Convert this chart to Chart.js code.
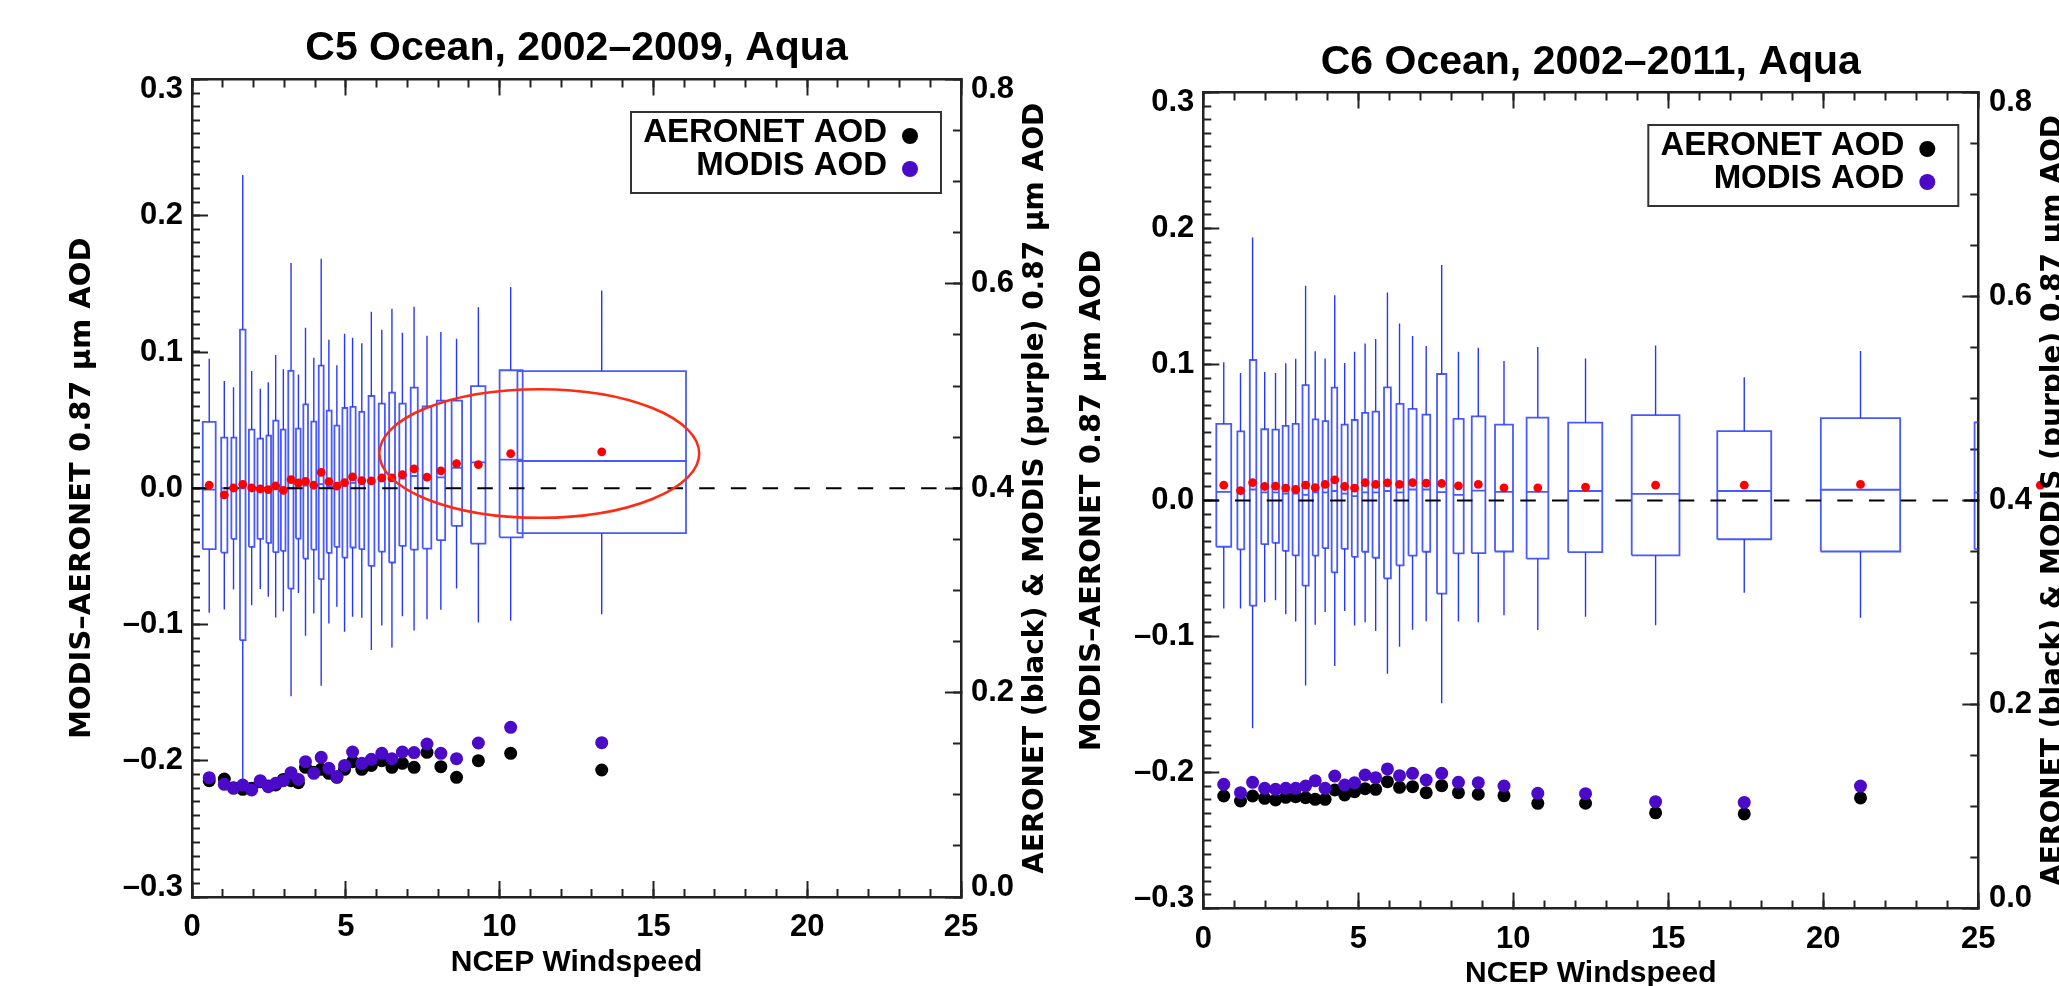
<!DOCTYPE html>
<html>
<head>
<meta charset="utf-8">
<title>MODIS-AERONET vs NCEP windspeed</title>
<script src="https://cdn.jsdelivr.net/npm/chart.js@4.4.1/dist/chart.umd.min.js"></script>
<style>
  html, body { margin: 0; padding: 0; background: #fff; width: 2059px; height: 986px; overflow: hidden; }
  canvas { position: absolute; left: 0; top: 0; }
</style>
</head>
<body>
<canvas id="c5" width="2200" height="1010"></canvas>
<canvas id="c6" width="2200" height="1010"></canvas>
<script>
// ---- C5 Ocean, 2002-2009 (left panel) ----
const c5X      = [0.56,1.05,1.35,1.65,1.94,2.22,2.48,2.72,2.97,3.22,3.46,3.69,3.96,4.20,4.45,4.71,4.96,5.22,5.52,5.83,6.17,6.50,6.84,7.22,7.64,8.09,8.60,9.31,10.36,13.32];
const c5Left   = [0.35,0.95,1.28,1.56,1.85,2.13,2.42,2.64,2.89,3.13,3.38,3.62,3.88,4.12,4.38,4.63,4.89,5.15,5.44,5.74,6.07,6.41,6.74,7.11,7.50,7.96,8.44,9.07,10.00,10.58];
const c5Right  = [0.77,1.15,1.44,1.74,2.03,2.31,2.57,2.81,3.04,3.30,3.53,3.77,4.04,4.28,4.54,4.79,5.05,5.32,5.60,5.93,6.27,6.60,6.95,7.34,7.78,8.23,8.78,9.54,10.75,16.06];
const c5Q3     = [0.0487,0.0372,0.0372,0.1164,0.043,0.0364,0.0386,0.0496,0.043,0.0861,0.0438,0.0616,0.0489,0.09,0.057,0.046,0.0589,0.0597,0.056,0.0677,0.0621,0.0702,0.0621,0.0738,0.0601,0.0643,0.0643,0.075,0.0866,0.086];
const c5Med    = [-0.001,0,0,0,0,0,0,0,0,0,0.001,0.002,0.002,0.003,0.001,0.001,0.002,0.004,0.003,0.004,0.005,0.006,0.007,0.009,0.008,0.008,0.015,0.019,0.021,0.020];
const c5Q1     = [-0.0447,-0.0472,-0.0372,-0.1115,-0.043,-0.0372,-0.0401,-0.0469,-0.046,-0.0736,-0.0369,-0.0516,-0.045,-0.0667,-0.0474,-0.043,-0.0509,-0.0435,-0.0447,-0.057,-0.0465,-0.0545,-0.0423,-0.045,-0.0443,-0.0381,-0.0276,-0.0406,-0.036,-0.033];
const c5Hi     = [0.0951,0.0787,0.0741,0.230,0.0861,0.0731,0.0778,0.0978,0.0873,0.1653,0.0834,0.1178,0.0958,0.1685,0.109,0.0902,0.1134,0.1105,0.1064,0.1296,0.1164,0.1318,0.1142,0.1333,0.112,0.1147,0.1098,0.1328,0.1477,0.1452];
const c5Lo     = [-0.0914,-0.089,-0.0743,-0.2252,-0.0858,-0.074,-0.0797,-0.0949,-0.0902,-0.1526,-0.0768,-0.1083,-0.0919,-0.145,-0.0993,-0.087,-0.1054,-0.0944,-0.0951,-0.1188,-0.1007,-0.1169,-0.0939,-0.1044,-0.0961,-0.0892,-0.0736,-0.0985,-0.0973,-0.0924];
const c5Mean   = [0.0022,-0.0049,0.0002,0.0029,0.0002,-0.0005,-0.001,0.0017,-0.0015,0.0064,0.0039,0.0051,0.0022,0.0117,0.0049,0.0015,0.0042,0.0083,0.0056,0.0054,0.0076,0.0076,0.010,0.0142,0.0081,0.0127,0.0181,0.0174,0.0254,0.0267];
const c5Aeronet= [0.1138,0.1155,0.107,0.1054,0.1063,0.1129,0.1086,0.1096,0.1151,0.1138,0.1119,0.1269,0.122,0.1249,0.121,0.1171,0.1249,0.1324,0.1249,0.1288,0.1334,0.1269,0.1308,0.1269,0.1416,0.1275,0.1171,0.1334,0.1406,0.1243];
const c5Modis  = [0.1168,0.1103,0.1063,0.1096,0.1047,0.1138,0.108,0.1112,0.1138,0.1217,0.1151,0.1324,0.121,0.1367,0.1259,0.1178,0.1288,0.1419,0.1308,0.1347,0.1406,0.1354,0.1419,0.1413,0.1497,0.1406,0.1354,0.1507,0.166,0.151];
// red ring drawn on the C5 panel: centre (windspeed, diff) and radii
const c5Ring   = { cx: 11.29, cy: 0.0255, rx: 5.2, ry: 0.0472 };

// ---- C6 Ocean, 2002-2011 (right panel) ----
const c6X      = [0.66,1.20,1.59,1.98,2.33,2.66,2.98,3.30,3.61,3.93,4.24,4.56,4.88,5.22,5.56,5.94,6.33,6.75,7.19,7.69,8.23,8.87,9.70,10.79,12.33,14.59,17.45,21.20,27.0];
const c6Left   = [0.42,1.10,1.50,1.87,2.23,2.56,2.88,3.20,3.53,3.85,4.14,4.46,4.79,5.12,5.46,5.83,6.23,6.62,7.07,7.54,8.07,8.66,9.41,10.43,11.77,13.82,16.58,19.92,24.88];
const c6Right  = [0.90,1.32,1.71,2.09,2.44,2.75,3.08,3.40,3.71,4.03,4.32,4.66,4.98,5.32,5.67,6.05,6.46,6.88,7.32,7.84,8.40,9.10,9.99,11.13,12.87,15.36,18.32,22.48,29.1];
const c6Q3     = [0.0563,0.0509,0.1033,0.0524,0.0521,0.0548,0.0563,0.0849,0.0597,0.0583,0.083,0.0558,0.0592,0.0644,0.0654,0.0832,0.071,0.0673,0.0632,0.093,0.06,0.0619,0.0558,0.061,0.0572,0.0628,0.051,0.0606,0.0575];
const c6Med    = [0.0064,0.0056,0.0081,0.006,0.006,0.005,0.005,0.0042,0.006,0.006,0.007,0.005,0.0032,0.006,0.006,0.007,0.006,0.0081,0.0081,0.0061,0.0042,0.0073,0.0064,0.0064,0.007,0.0048,0.007,0.0079,0.006];
const c6Q1     = [-0.034,-0.036,-0.0773,-0.0321,-0.0311,-0.037,-0.0404,-0.0626,-0.0406,-0.035,-0.0529,-0.0355,-0.0414,-0.0377,-0.0421,-0.0572,-0.0477,-0.0406,-0.0377,-0.0685,-0.0389,-0.0387,-0.0375,-0.0428,-0.038,-0.0403,-0.0285,-0.0375,-0.0358];
const c6Hi     = [0.1016,0.0938,0.1934,0.0945,0.0938,0.1009,0.1043,0.1579,0.1097,0.1045,0.151,0.1011,0.1094,0.1155,0.1187,0.153,0.1302,0.1209,0.1136,0.1731,0.1094,0.1124,0.1026,0.1129,0.1045,0.114,0.0907,0.1099,null];
const c6Lo     = [-0.0795,-0.0795,-0.1675,-0.0749,-0.0734,-0.0837,-0.089,-0.136,-0.0913,-0.082,-0.1217,-0.0812,-0.092,-0.0896,-0.0959,-0.1273,-0.1075,-0.095,-0.0888,-0.1491,-0.089,-0.0896,-0.0844,-0.0952,-0.0854,-0.0918,-0.0679,-0.0862,null];
const c6Mean   = [0.0113,0.0073,0.0132,0.0103,0.0105,0.0091,0.0081,0.0113,0.0095,0.0118,0.0152,0.0103,0.0091,0.0132,0.0118,0.013,0.0118,0.0132,0.0127,0.0125,0.0108,0.0118,0.0093,0.0093,0.0099,0.0113,0.0113,0.0118,0.0113];
const c6Aeronet= [0.1103,0.1054,0.1103,0.108,0.1064,0.109,0.1096,0.1087,0.107,0.107,0.1162,0.1113,0.1145,0.1175,0.1168,0.1243,0.1188,0.1194,0.1136,0.1204,0.1136,0.112,0.1106,0.1031,0.1032,0.0938,0.0927,0.1084,null];
const c6Modis  = [0.1217,0.1136,0.1237,0.1178,0.1168,0.1178,0.1178,0.1201,0.1253,0.1178,0.1299,0.1211,0.1234,0.1309,0.1283,0.1368,0.1302,0.1325,0.126,0.1325,0.1237,0.1234,0.1201,0.1129,0.1126,0.1047,0.104,0.12,null];

// axis ranges
const X_RANGE  = [0, 25];
const Y_RANGE  = [-0.3, 0.3];
const Y2_RANGE = [0, 0.8];

const SANS = "'Liberation Sans', Arial, sans-serif";
const WIDE = "'DejaVu Sans', sans-serif";
const INK = '#222';
const BOX_BLUE = 'rgba(40,60,255,0.85)';
const WHISKER_BLUE = '#2536ff';
const PURPLE = '#4a0ac8';
const Y_TITLE = 'MODIS\u2013AERONET 0.87 \u03bcm AOD';
const Y2_TITLE = 'AERONET (black) & MODIS (purple) 0.87 \u03bcm AOD';

// box outlines + median bars, separated by gaps
function boxOutline(left, right, q1, med, q3) {
  const pts = [];
  left.forEach(function(l, i) {
    const r = right[i];
    pts.push({x: l, y: q1[i]}, {x: l, y: q3[i]}, {x: r, y: q3[i]}, {x: r, y: q1[i]}, {x: l, y: q1[i]}, {x: NaN, y: null});
    pts.push({x: l, y: med[i]}, {x: r, y: med[i]}, {x: NaN, y: null});
  });
  return pts;
}

function whiskers(x, q1, q3, lo, hi) {
  const pts = [];
  x.forEach(function(xv, i) {
    if (hi[i] !== null) pts.push({x: xv, y: q3[i]}, {x: xv, y: hi[i]}, {x: NaN, y: null});
    if (lo[i] !== null) pts.push({x: xv, y: q1[i]}, {x: xv, y: lo[i]}, {x: NaN, y: null});
  });
  return pts;
}

function zip(x, y) {
  return x.map(function(v, i) { return {x: v, y: y[i]}; });
}

function yLabel(v, i, ticks) {
  const s = (v < -1e-9 ? '\u2013' : '') + Math.abs(v).toFixed(1);
  if (i === 0) return [s, ''];
  if (i === ticks.length - 1) return ['', s];
  return s;
}

// end labels sit a little inside the frame, like the original
function edgeFont(ctx) {
  const t = ctx && ctx.scale ? ctx.scale.ticks : null;
  const last = t ? t.length - 1 : -1;
  const edge = t && (ctx.index === 0 || ctx.index === last);
  return {family: SANS, size: 31, weight: 'bold', lineHeight: edge ? '20px' : 1.2};
}

function tickGrid(len) {
  return {display: true, drawOnChartArea: false, drawTicks: true, tickLength: len, tickWidth: 2, tickColor: INK};
}

function minorScale(position, range, step) {
  const horiz = position === 'top' || position === 'bottom';
  return {
    type: 'linear', position: position, weight: 0, min: range[0], max: range[1],
    ticks: {display: false, stepSize: step, maxTicksLimit: 1000},
    grid: tickGrid(-8), border: {display: false},
    afterFit: function(s) { if (horiz) s.height = 0; else s.width = 0; }
  };
}

function frameScales(lay) {
  return {
    x: {
      type: 'linear', position: 'bottom', weight: 1, min: X_RANGE[0], max: X_RANGE[1],
      ticks: {stepSize: 5, maxTicksLimit: 1000, autoSkip: false, maxRotation: 0, color: '#000',
              font: {family: SANS, size: 31, weight: 'bold'}, padding: 28},
      grid: tickGrid(-16), border: {color: INK, width: 2.5},
      title: {display: true, text: 'NCEP Windspeed', color: '#000',
              font: {family: SANS, size: 30, weight: 'bold'}, padding: {top: 0, bottom: lay.xTitlePad}},
      afterFit: function(s) { s.height = lay.xHeight; }
    },
    xMinor: minorScale('bottom', X_RANGE, 1),
    xTop: {
      type: 'linear', position: 'top', weight: 1, min: X_RANGE[0], max: X_RANGE[1],
      ticks: {display: false, stepSize: 5, maxTicksLimit: 1000},
      grid: tickGrid(-16), border: {color: INK, width: 2.5},
      afterFit: function(s) { s.height = 0; }
    },
    xTopMinor: minorScale('top', X_RANGE, 1),
    y: {
      type: 'linear', position: 'left', weight: 1, min: Y_RANGE[0], max: Y_RANGE[1],
      ticks: {stepSize: 0.1, maxTicksLimit: 1000, autoSkip: false, color: '#000', font: edgeFont,
              padding: 25, callback: yLabel},
      grid: tickGrid(-16), border: {color: INK, width: 2.5},
      title: {display: true, text: Y_TITLE, color: '#000',
              font: {family: WIDE, size: 29, weight: 'bold'}, padding: {top: lay.yTitlePad, bottom: 0}},
      afterFit: function(s) { s.width = lay.yWidth; }
    },
    yMinor: minorScale('left', Y_RANGE, 0.01),
    y2: {
      type: 'linear', position: 'right', weight: 1, min: Y2_RANGE[0], max: Y2_RANGE[1],
      ticks: {stepSize: 0.2, maxTicksLimit: 1000, autoSkip: false, color: '#000', font: edgeFont,
              padding: lay.y2Pad, callback: yLabel},
      grid: tickGrid(-16), border: {color: INK, width: 2.5},
      afterFit: function(s) { s.width = 100; }
    },
    y2Minor: minorScale('right', Y2_RANGE, 0.05)
  };
}

// legend box in the upper right of the frame
const aodLegend = {
  id: 'aodLegend',
  afterDatasetsDraw(chart, args, o) {
    const {ctx, chartArea: a} = chart;
    const items = chart.data.datasets.filter(function(d) { return d.inLegend; });
    const right = a.right - o.inset, top = a.top + o.top;
    ctx.save();
    ctx.lineWidth = 2;
    ctx.strokeStyle = '#333';
    ctx.strokeRect(right - o.width, top, o.width, o.height);
    ctx.font = 'bold 33px ' + SANS;
    ctx.textAlign = 'right';
    ctx.textBaseline = 'middle';
    items.forEach(function(d, k) {
      const y = top + o.rows[k];
      ctx.fillStyle = '#000';
      ctx.fillText(d.label, right - o.textRight, y);
      ctx.beginPath();
      ctx.fillStyle = d.backgroundColor;
      ctx.arc(right - o.marker, y + 3, o.radius, 0, 2 * Math.PI);
      ctx.fill();
    });
    ctx.restore();
  }
};

// right-hand axis title, reading bottom to top
const sideTitle = {
  id: 'sideTitle',
  afterDraw(chart, args, o) {
    const {ctx, chartArea: a} = chart;
    ctx.save();
    ctx.translate(a.right + o.offset, (a.top + a.bottom) / 2);
    ctx.rotate(-Math.PI / 2);
    ctx.font = 'bold 28px ' + WIDE;
    ctx.fillStyle = '#000';
    ctx.textAlign = 'center';
    ctx.textBaseline = 'middle';
    ctx.fillText(o.text, 0, 0);
    ctx.restore();
  }
};

// red ellipse highlight
const ringNote = {
  id: 'ringNote',
  afterDatasetsDraw(chart, args, o) {
    if (!o || o.cx === undefined) return;
    const {ctx} = chart;
    const xs = chart.scales.x, ys = chart.scales.y;
    const cx = xs.getPixelForValue(o.cx), cy = ys.getPixelForValue(o.cy);
    const rx = Math.abs(xs.getPixelForValue(o.cx + o.rx) - cx);
    const ry = Math.abs(ys.getPixelForValue(o.cy + o.ry) - cy);
    ctx.save();
    ctx.beginPath();
    ctx.ellipse(cx, cy, rx, ry, 0, 0, 2 * Math.PI);
    ctx.lineWidth = 2.5;
    ctx.strokeStyle = '#ff2a12';
    ctx.stroke();
    ctx.restore();
  }
};

// points that fall right of the frame are still plotted (as in the original)
const offAxisPoints = {
  id: 'offAxisPoints',
  afterDatasetsDraw(chart) {
    const {ctx, chartArea: a} = chart;
    chart.data.datasets.forEach(function(ds, i) {
      if (!ds.drawOffAxis) return;
      chart.getDatasetMeta(i).data.forEach(function(el) {
        if (el.skip || !isFinite(el.x) || !isFinite(el.y)) return;
        if (el.x > a.right || el.x < a.left) el.draw(ctx);
      });
    });
  }
};

function buildChart(id, d, lay) {
  return new Chart(document.getElementById(id), {
    type: 'scatter',
    data: {
      datasets: [
        {label: 'boxes', data: boxOutline(d.left, d.right, d.q1, d.med, d.q3), showLine: true, spanGaps: false,
         borderColor: BOX_BLUE, borderWidth: 1.8, pointRadius: 0, xAxisID: 'x', yAxisID: 'y', order: 6},
        {label: 'whiskers', data: whiskers(d.x, d.q1, d.q3, d.lo, d.hi), showLine: true, spanGaps: false,
         borderColor: WHISKER_BLUE, borderWidth: 1.4, pointRadius: 0, xAxisID: 'x', yAxisID: 'y', order: 5},
        {label: 'zero', data: [{x: X_RANGE[0], y: 0}, {x: X_RANGE[1], y: 0}], showLine: true,
         borderColor: '#000', borderWidth: 2, borderDash: [15.5, 16.2], pointRadius: 0,
         xAxisID: 'x', yAxisID: 'y', order: 4},
        {label: 'AERONET AOD', inLegend: true, data: zip(d.x, d.aeronet), backgroundColor: '#000',
         borderWidth: 0, pointRadius: 6.5, xAxisID: 'x', yAxisID: 'y2', order: 3},
        {label: 'MODIS AOD', inLegend: true, data: zip(d.x, d.modis), backgroundColor: PURPLE,
         borderWidth: 0, pointRadius: 6.5, xAxisID: 'x', yAxisID: 'y2', order: 2},
        {label: 'mean', drawOffAxis: true, data: zip(d.x, d.mean), backgroundColor: '#ff0000',
         borderWidth: 0, pointRadius: 4.4, xAxisID: 'x', yAxisID: 'y', order: 1}
      ]
    },
    options: {
      responsive: false,
      animation: false,
      events: [],
      layout: {padding: lay.padding},
      plugins: {
        legend: {display: false},
        tooltip: {enabled: false},
        title: {display: true, text: lay.title, fullSize: false, color: '#000',
                font: {family: SANS, size: 41, weight: 'bold'}, padding: lay.titlePad},
        aodLegend: {inset: 20, top: 32.5, width: 310, height: 81, rows: [21, 54], textRight: 54, marker: 31, radius: 8},
        sideTitle: {text: Y2_TITLE, offset: 75},
        ringNote: lay.ring ? lay.ring : false
      },
      scales: frameScales(lay)
    },
    plugins: [aodLegend, sideTitle, ringNote, offAxisPoints]
  });
}

buildChart('c5',
  {x: c5X, left: c5Left, right: c5Right, q1: c5Q1, med: c5Med, q3: c5Q3, lo: c5Lo, hi: c5Hi,
   mean: c5Mean, aeronet: c5Aeronet, modis: c5Modis},
  {title: 'C5 Ocean, 2002\u20132009, Aqua', titlePad: {top: 24, bottom: 6.3},
   padding: {left: 0, right: 1139, top: 0, bottom: 0},
   yWidth: 192, yTitlePad: 64.6, y2Pad: 26, xHeight: 113, xTitlePad: 29, ring: c5Ring});

buildChart('c6',
  {x: c6X, left: c6Left, right: c6Right, q1: c6Q1, med: c6Med, q3: c6Q3, lo: c6Lo, hi: c6Hi,
   mean: c6Mean, aeronet: c6Aeronet, modis: c6Modis},
  {title: 'C6 Ocean, 2002\u20132011, Aqua', titlePad: {top: 38, bottom: 5.3},
   padding: {left: 1053.3, right: 121.7, top: 0, bottom: 0},
   yWidth: 150, yTitlePad: 21.3, y2Pad: 26.7, xHeight: 101.5, xTitlePad: 18, ring: null});
</script>
</body>
</html>
